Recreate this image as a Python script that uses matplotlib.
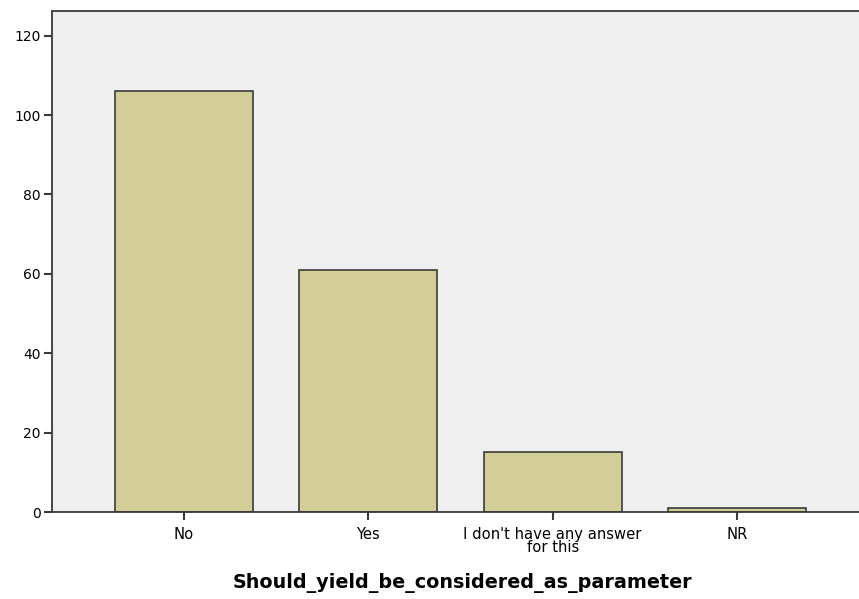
import matplotlib
matplotlib.use("Agg")
import matplotlib.pyplot as plt

categories = ["No", "Yes", "I don't have any answer\nfor this", "NR"]
counts = [106, 61, 15, 1]
yticks = [0, 20, 40, 60, 80, 100, 120]

BAR_COLOR = "#d3ce97"
EDGE = "#3a3a3a"

fig = plt.figure(figsize=(8.59, 5.99), dpi=100)
ax = fig.add_axes([52 / 859, 1 - 512 / 599, 817 / 859, 501 / 599])
ax.set_facecolor("#efefef")

x = range(len(categories))
ax.bar(x, counts, width=0.75, color=BAR_COLOR, edgecolor=EDGE, linewidth=1.2, zorder=2)

ax.set_xlim(-0.717, 3.717)
ax.set_ylim(0, 126.2)
ax.set_yticks(yticks)
ax.set_xticks(list(x))
ax.set_xticklabels(categories, fontfamily="DejaVu Sans", fontsize=10.6, linespacing=0.78)
ax.set_yticklabels([str(t) for t in yticks], fontfamily="DejaVu Sans", fontsize=10)
ax.tick_params(axis="both", length=6, width=1.5, color=EDGE)
ax.tick_params(axis="x", pad=5)
ax.tick_params(axis="y", pad=2)

for side in ["left", "top", "bottom"]:
    ax.spines[side].set_color(EDGE)
    ax.spines[side].set_linewidth(1.3)
ax.spines["right"].set_visible(False)

fig.text(462 / 859, 1 - 583 / 599, "Should_yield_be_considered_as_parameter",
         ha="center", va="center", fontsize=13.8, fontweight="bold", fontfamily="DejaVu Sans")

fig.savefig("out.png", dpi=100)
